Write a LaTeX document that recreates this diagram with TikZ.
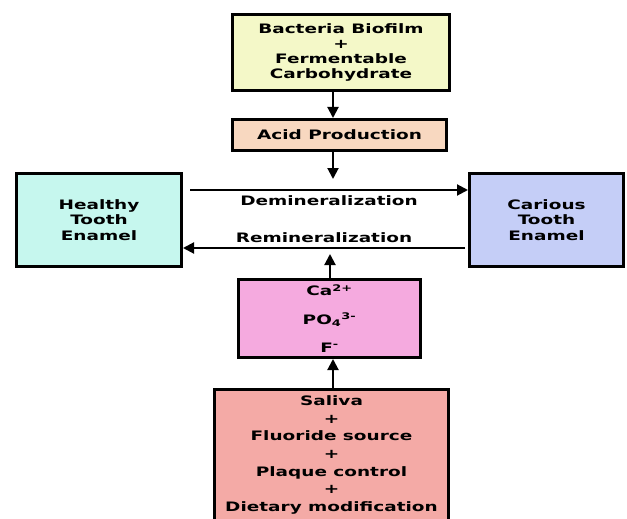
\documentclass[tikz,border=0pt]{standalone}
\usepackage{fontspec}
\usepackage{xcolor}
\usepackage{tikz}
\usetikzlibrary{arrows.meta,positioning}
\newfontfamily\boxfont{DejaVu Sans}[FakeStretch=1.42]
\definecolor{biofilmfill}{HTML}{F4F8C8}
\definecolor{acidfill}{HTML}{F8D8C0}
\definecolor{healthyfill}{HTML}{C6F7EE}
\definecolor{cariousfill}{HTML}{C5CEF7}
\definecolor{ionfill}{HTML}{F5AADF}
\definecolor{preventfill}{HTML}{F4AAA6}

\begin{document}
\begin{tikzpicture}[x=1pt,y=1pt,
    stage/.style={draw, line width=3pt, align=center, inner sep=0pt,
        font=\boxfont\bfseries\fontsize{13}{15.2}\selectfont},
    flow/.style={line width=2pt, -{Triangle[length=11pt,width=11pt]}},
    lbl/.style={font=\boxfont\bfseries\fontsize{13}{15}\selectfont}]
\useasboundingbox (0,0) rectangle (627,-519);

\node (biofilm) [stage, minimum width=217pt, minimum height=76pt,
    fill=biofilmfill] at (341,-52.5)
    {Bacteria Biofilm\\+\\Fermentable\\Carbohydrate};
\node (acid) [stage, minimum width=214pt, minimum height=31pt,
    fill=acidfill] at (339.5,-135) {Acid Production};
\node (healthy) [stage, minimum width=165pt, minimum height=93pt,
    fill=healthyfill] at (99,-220) {Healthy\\Tooth\\Enamel};
\node (carious) [stage, minimum width=154pt, minimum height=93pt,
    fill=cariousfill] at (546.5,-220) {Carious\\Tooth\\Enamel};
\node (ions) [stage, minimum width=182pt, minimum height=78pt,
    fill=ionfill] at (329.5,-318.5)
    {Ca\textsuperscript{2+}\\[13pt]PO\textsubscript{4}\textsuperscript{3-}\\[13pt]F\textsuperscript{-}};
\node (prevent) [stage, minimum width=234pt, minimum height=131pt,
    fill=preventfill, font=\boxfont\bfseries\fontsize{13}{17.6}\selectfont]
    at (331.5,-455)
    {Saliva\\+\\Fluoride source\\+\\Plaque control\\+\\Dietary modification};

% free ends of the short arrows
\coordinate (spine) at (333,0);
\coordinate (acidtip) at (333,-179);
\coordinate (remintip) at (330,-254);

\draw[flow] (biofilm.south -| spine) -- (acid.north -| spine);
\draw[flow] (acid.south -| spine) -- (acidtip);
\draw[flow] ([xshift=7pt,yshift=30pt]healthy.east) -- ([yshift=30pt]carious.west)
    node[lbl, midway, below=1pt] (demin) {Demineralization};
\draw[flow] ([xshift=-3pt,yshift=-28pt]carious.west) -- ([yshift=-28pt]healthy.east)
    node[lbl, midway, above=1pt] (remin) {Remineralization};
\draw[flow] (ions.north -| remintip) -- (remintip);
\draw[flow] (prevent.north -| spine) -- (ions.south -| spine);
\end{tikzpicture}
\end{document}
